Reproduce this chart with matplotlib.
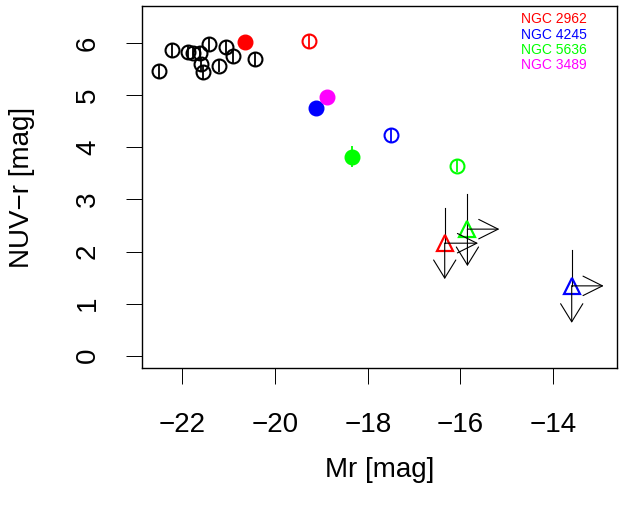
import matplotlib
matplotlib.use("Agg")
from matplotlib import pyplot as plt

plt.rcParams['font.family'] = ['Liberation Sans', 'DejaVu Sans']

# early-type galaxies (open black circles)
ref_mr = [-22.50, -22.22, -21.88, -21.76, -21.63, -21.60, -21.56, -21.42, -21.20, -21.06, -20.90, -20.43]
ref_col = [5.47, 5.87, 5.83, 5.82, 5.81, 5.60, 5.44, 5.98, 5.57, 5.93, 5.76, 5.69]
ref_err = 0.13

# host galaxies (filled) and their companions (open circles)
names = ['NGC 2962', 'NGC 4245', 'NGC 5636', 'NGC 3489']
colors = ['#FF0000', '#0000FF', '#00FF00', '#FF00FF']
host_mr = [-20.65, -19.12, -18.33, -18.88]
host_col = [6.03, 4.75, 3.82, 4.97]
host_err = [0.10, 0.10, 0.20, 0.10]
sat_mr = [-19.26, -17.49, -16.08]
sat_col = [6.04, 4.24, 3.65]
sat_err = 0.13

# limits (triangles with arrows)
lim_mr = [-16.34, -13.60, -15.85]
lim_col = [2.16, 1.34, 2.43]
lim_colors = ['#FF0000', '#0000FF', '#00FF00']
lim_top = [2.83, 2.03, 3.10]
lim_bot = [1.47, 0.63, 1.72]
lim_right = [-15.62, -12.91, -15.16]

fig = plt.figure(figsize=(6.22, 5.08), dpi=100)
ax = fig.add_axes([142 / 622, 1 - 368 / 508, 475 / 622, 362 / 508])

ax.errorbar(ref_mr, ref_col, yerr=ref_err, fmt='o', mfc='none', mec='k', ecolor='k',
            mew=1.5, ms=10, elinewidth=1.3, capsize=0)

for i in range(len(sat_mr)):
    ax.errorbar(sat_mr[i], sat_col[i], yerr=sat_err, fmt='o', mfc='none', mec=colors[i],
                ecolor=colors[i], mew=1.5, ms=10, elinewidth=1.3, capsize=0)

for i in range(len(host_mr)):
    ax.errorbar(host_mr[i], host_col[i], yerr=host_err[i], fmt='o', color=colors[i],
                ms=10.5, elinewidth=1.3, capsize=0)

for i in range(len(lim_mr)):
    ax.plot([lim_mr[i], lim_mr[i]], [lim_col[i], lim_top[i]], color='k', lw=0.8)
    ax.annotate('', xy=(lim_mr[i], lim_bot[i]), xytext=(lim_mr[i], lim_col[i]),
                arrowprops=dict(arrowstyle='->,head_length=1.3,head_width=0.8',
                                lw=0.8, color='k', shrinkA=0, shrinkB=0))
    ax.annotate('', xy=(lim_right[i], lim_col[i]), xytext=(lim_mr[i], lim_col[i]),
                arrowprops=dict(arrowstyle='->,head_length=1.4,head_width=0.7',
                                lw=0.8, color='k', shrinkA=0, shrinkB=0))
    ax.plot(lim_mr[i], lim_col[i], marker='^', mfc='none', mec=lim_colors[i], mew=1.6, ms=12)

ax.set_xlim(-22.871, -12.623)
ax.set_ylim(-0.238, 6.717)
ax.set_xticks([-22, -20, -18, -16, -14])
ax.set_yticks([0, 1, 2, 3, 4, 5, 6])
ax.tick_params(direction='out', length=11.5, width=0.7, labelsize=20, pad=20)
ax.tick_params(axis='y', labelrotation=90, pad=18)
for lab in ax.get_yticklabels():
    lab.set_verticalalignment('center')
for sp in ax.spines.values():
    sp.set_linewidth(1.0)

fig.text(379.5 / 622, 1 - 470 / 508, 'Mr [mag]', ha='center', va='center', fontsize=20)
fig.text(22 / 622, 1 - 187 / 508, 'NUV\u2212r [mag]', ha='center', va='center',
         rotation=90, fontsize=20)

leg_y = [19, 35, 50, 65]
for i in range(len(names)):
    fig.text(521 / 622, 1 - leg_y[i] / 508, names[i], color=colors[i], fontsize=10,
             ha='left', va='center')

fig.savefig('out.png', dpi=100)
